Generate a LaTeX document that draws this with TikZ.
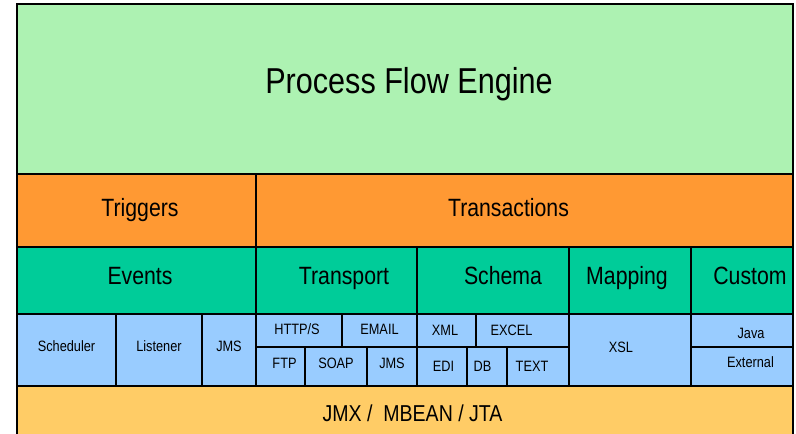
\documentclass[tikz,border=0pt]{standalone}
\usepackage{fontspec}
\setmainfont{Liberation Sans}[FakeStretch=0.85]
\definecolor{engine}{RGB}{173,242,178}
\definecolor{trans}{RGB}{255,153,51}
\definecolor{module}{RGB}{0,204,153}
\definecolor{detail}{RGB}{153,204,255}
\definecolor{base}{RGB}{255,204,102}
\begin{document}
\begin{tikzpicture}[x=1pt,y=-1pt,
    cell/.style={draw=black,line width=1.4pt,anchor=north west,inner sep=0pt,outer sep=0pt},
    engine/.style={cell,fill=engine,font=\fontsize{36}{40}\selectfont,text height=26pt,text depth=18pt},
    trans/.style={cell,fill=trans,font=\fontsize{25}{30}\selectfont,text height=18pt,text depth=7pt},
    module/.style={cell,fill=module,font=\fontsize{25}{30}\selectfont,text height=18pt,text depth=11pt},
    detail/.style={cell,fill=detail,font=\fontsize{15}{18}\selectfont,text height=10.5pt,text depth=3.5pt},
    base/.style={cell,fill=base,font=\fontsize{23}{28}\selectfont,text height=16.5pt,text depth=0pt}]
  \useasboundingbox (0,0) rectangle (796,434);
  \clip (0,0) rectangle (796,434);
  % engine and transaction layers
  \node[engine,minimum width=776pt,minimum height=170pt] (engine) at (17,4) {\kern8pt Process Flow Engine};
  \node[trans,minimum width=239pt,minimum height=73pt] (triggers) at (17,174) {\kern7pt Triggers};
  \node[trans,minimum width=537pt,minimum height=73pt] (transactions) at (256,174) {Transactions\kern32pt};
  % modules
  \node[module,minimum width=239pt,minimum height=67pt] (events) at (17,247) {\kern7pt Events};
  \node[module,minimum width=161pt,minimum height=67pt] (transport) at (256,247) {\kern15pt Transport};
  \node[module,minimum width=152pt,minimum height=67pt] (schema) at (417,247) {\kern20pt Schema};
  \node[module,minimum width=122pt,minimum height=67pt] (mapping) at (569,247) {Mapping\kern6pt};
  \node[module,minimum width=102pt,minimum height=67pt] (custom) at (691,247) {\kern16pt Custom};
  % events
  \node[detail,minimum width=99pt,minimum height=72pt,text depth=8.5pt] (scheduler) at (17,314) {Scheduler};
  \node[detail,minimum width=86pt,minimum height=72pt,text depth=8.5pt] (listener) at (116,314) {Listener};
  \node[detail,minimum width=54pt,minimum height=72pt,text depth=8.5pt] (jmsev) at (202,314) {JMS};
  % transport
  \node[detail,minimum width=86pt,minimum height=33pt] (https) at (256,314) {HTTP/S\kern4pt};
  \node[detail,minimum width=75pt,minimum height=33pt] (email) at (342,314) {EMAIL};
  \node[detail,minimum width=49pt,minimum height=39pt,text depth=7.5pt] (ftp) at (256,347) {\kern8pt FTP};
  \node[detail,minimum width=62pt,minimum height=39pt,text depth=7.5pt] (soap) at (305,347) {SOAP};
  \node[detail,minimum width=50pt,minimum height=39pt,text depth=7.5pt] (jmstr) at (367,347) {JMS};
  % schema
  \node[detail,minimum width=59pt,minimum height=33pt,text depth=1.5pt] (xml) at (417,314) {XML\kern3pt};
  \node[detail,minimum width=93pt,minimum height=33pt,text depth=1.5pt] (excel) at (476,314) {EXCEL\kern22pt};
  \node[detail,minimum width=50pt,minimum height=39pt,text depth=1.5pt] (edi) at (417,347) {\kern3pt EDI};
  \node[detail,minimum width=40pt,minimum height=39pt,text depth=1.5pt] (db) at (467,347) {DB\kern9pt};
  \node[detail,minimum width=62pt,minimum height=39pt,text depth=1.5pt] (text) at (507,347) {TEXT\kern12pt};
  % mapping and custom
  \node[detail,minimum width=122pt,minimum height=72pt,text depth=6.5pt] (xsl) at (569,314) {XSL\kern18pt};
  \node[detail,minimum width=102pt,minimum height=33pt,text height=18.5pt] (java) at (691,314) {\kern18pt Java};
  \node[detail,minimum width=102pt,minimum height=39pt,text depth=9.5pt] (external) at (691,347) {\kern17pt External};
  % base layer
  \node[base,minimum width=776pt,minimum height=54pt] (jmx) at (17,386) {\kern15pt JMX /\ \ MBEAN / JTA};
\end{tikzpicture}
\end{document}
